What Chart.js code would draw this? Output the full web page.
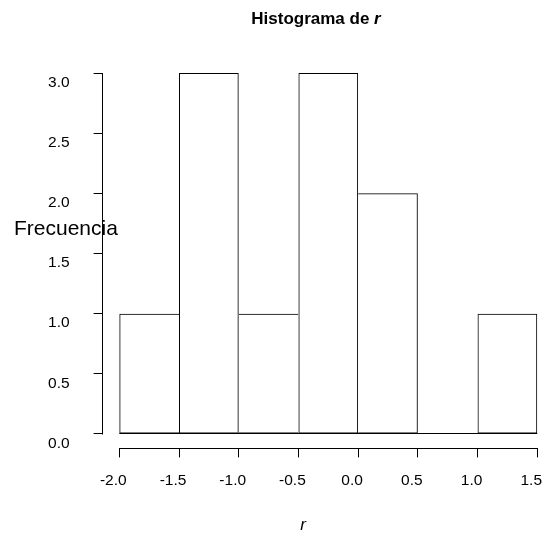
<!DOCTYPE html>
<html>
<head>
<meta charset="utf-8">
<script src="https://cdn.jsdelivr.net/npm/chart.js@4"></script>
<style>
  html, body { margin: 0; padding: 0; background: #fff; }
  canvas { display: block; }
</style>
</head>
<body>
<canvas id="hist" width="545" height="535"></canvas>
<script>
// histogram bins and counts
const breaks = [-2.0, -1.5, -1.0, -0.5, 0.0, 0.5, 1.0, 1.5];
const counts = [1, 3, 1, 3, 2, 0, 1];
const xTicks = [-2.0, -1.5, -1.0, -0.5, 0.0, 0.5, 1.0, 1.5];
const yTicks = [0.0, 0.5, 1.0, 1.5, 2.0, 2.5, 3.0];

const titleMain = 'Histograma de ';
const titleVar = 'r';
const yLabel = 'Frecuencia';
const xLabel = 'r';

const FONT = '"Liberation Sans", Arial, Helvetica, sans-serif';

// one bar per bin, centred between its breaks
const bars = counts.map((c, i) => ({ x: (breaks[i] + breaks[i + 1]) / 2, y: c }));

// shared edges are drawn once, by the taller neighbour
function edgeWidths(ctx) {
  const i = ctx.dataIndex;
  const c = counts[i];
  const prev = i > 0 ? counts[i - 1] : 0;
  const next = i < counts.length - 1 ? counts[i + 1] : 0;
  return { top: 1, bottom: 1, left: c > prev ? 1 : 0, right: c >= next ? 1 : 0 };
}

// R-style axes: lines only from first to last tick, plus the titles
const baseAxes = {
  id: 'baseAxes',
  afterDraw(chart) {
    const { ctx, chartArea, scales: { x, y } } = chart;
    ctx.save();
    ctx.strokeStyle = '#000';
    ctx.lineWidth = 1;
    ctx.beginPath();
    const ax = Math.round(chartArea.left) - 0.5;
    ctx.moveTo(ax, Math.round(y.getPixelForValue(yTicks[0])) + 0.5);
    ctx.lineTo(ax, Math.round(y.getPixelForValue(yTicks[yTicks.length - 1])) + 0.5);
    const ay = Math.round(chartArea.bottom) + 0.5;
    ctx.moveTo(Math.round(x.getPixelForValue(xTicks[0])) + 0.5, ay);
    ctx.lineTo(Math.round(x.getPixelForValue(xTicks[xTicks.length - 1])) + 0.5, ay);
    // bottom of the histogram, also under empty bins
    const by = Math.round(y.getPixelForValue(0)) - 0.5;
    ctx.moveTo(x.getPixelForValue(breaks[0]), by);
    ctx.lineTo(x.getPixelForValue(breaks[breaks.length - 1]), by);
    ctx.stroke();

    ctx.fillStyle = '#000';
    ctx.textBaseline = 'alphabetic';
    // title with italic variable name
    ctx.font = 'bold 17px ' + FONT;
    const w1 = ctx.measureText(titleMain).width;
    ctx.font = 'italic bold 17px ' + FONT;
    const w2 = ctx.measureText(titleVar).width;
    const tx = 316 - (w1 + w2) / 2;
    ctx.font = 'bold 17px ' + FONT;
    ctx.fillText(titleMain, tx, 24);
    ctx.font = 'italic bold 17px ' + FONT;
    ctx.fillText(titleVar, tx + w1, 24);

    // horizontal y label
    ctx.font = '21px ' + FONT;
    ctx.textAlign = 'left';
    ctx.textBaseline = 'middle';
    ctx.fillText(yLabel, 14, 229);

    // x label
    ctx.font = 'italic 17px ' + FONT;
    ctx.textAlign = 'center';
    ctx.fillText(xLabel, 303, 525);
    ctx.restore();
  }
};

new Chart(document.getElementById('hist'), {
  type: 'bar',
  data: {
    datasets: [{
      data: bars,
      backgroundColor: 'rgba(255,255,255,0)',
      borderColor: '#000',
      borderWidth: edgeWidths,
      borderSkipped: false,
      inflateAmount: 0,
      barPercentage: 1,
      categoryPercentage: 1
    }]
  },
  options: {
    responsive: false,
    animation: false,
    events: [],
    layout: { padding: { top: 58.6, left: 0, right: 0, bottom: 0 } },
    plugins: {
      legend: { display: false },
      title: { display: false },
      tooltip: { enabled: false }
    },
    scales: {
      x: {
        type: 'linear',
        offset: false,
        min: -2.14,
        max: 1.565,
        afterBuildTicks: s => { s.ticks = xTicks.map(v => ({ value: v })); },
        afterFit: s => { s.height = 86.6; s.paddingLeft = 0; s.paddingRight = 0; },
        border: { display: false },
        grid: { offset: false, drawOnChartArea: false, drawTicks: true, tickLength: 9, color: '#000' },
        ticks: {
          autoSkip: false,
          maxRotation: 0,
          padding: 14,
          labelOffset: -6,
          color: '#000',
          font: { family: FONT, size: 15.5 },
          callback: v => v.toFixed(1)
        }
      },
      y: {
        min: -0.12,
        max: 3.12,
        afterBuildTicks: s => { s.ticks = yTicks.map(v => ({ value: v })); },
        afterFit: s => { s.width = 102.6; s.paddingTop = 0; s.paddingBottom = 0; },
        border: { display: false },
        grid: { drawOnChartArea: false, drawTicks: true, tickLength: 9, color: '#000' },
        ticks: {
          autoSkip: false,
          padding: 24,
          labelOffset: 9.5,
          color: '#000',
          font: { family: FONT, size: 15.5 },
          callback: v => v.toFixed(1)
        }
      }
    }
  },
  plugins: [baseAxes]
});
</script>
</body>
</html>
